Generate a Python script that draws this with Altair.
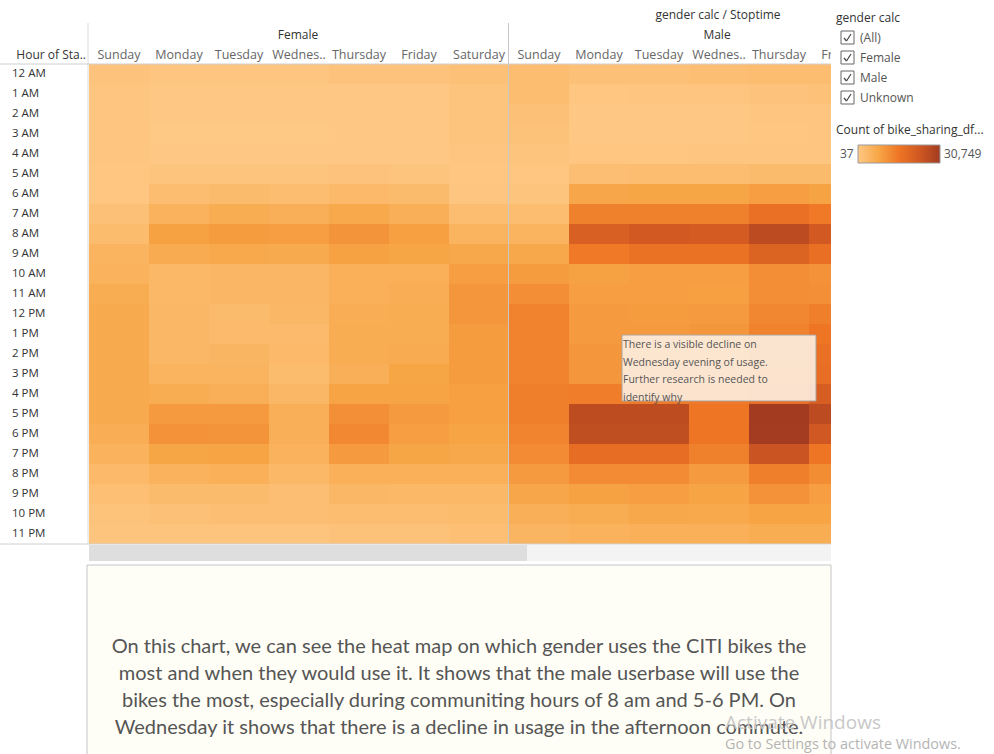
import altair as alt
import pandas as pd

FONT = "Open Sans"
BODY_FONT = "Lato"

HOURS = ["12 AM", "1 AM", "2 AM", "3 AM", "4 AM", "5 AM", "6 AM", "7 AM", "8 AM", "9 AM",
         "10 AM", "11 AM", "12 PM", "1 PM", "2 PM", "3 PM", "4 PM", "5 PM", "6 PM", "7 PM",
         "8 PM", "9 PM", "10 PM", "11 PM"]
DAYS = ["Sunday", "Monday", "Tuesday", "Wednesday", "Thursday", "Friday", "Saturday"]
DAY_LABELS = ["Sunday", "Monday", "Tuesday", "Wednes..", "Thursday", "Friday", "Saturday"]
GENDERS = ["Female", "Male"]

# Count of rides by hour (12 AM .. 11 PM) for each stop day
FEMALE = {
    "Sunday":    [1170, 710, 710, 650, 650, 500, 500, 1880, 2800, 4800, 4950, 6180, 6790, 6790, 6790, 6790, 6790, 6790, 5870, 4950, 3420, 2060, 1270, 960],
    "Monday":    [650, 190, 110, 90, 190, 960, 2490, 4950, 8330, 6490, 3660, 3660, 3880, 3880, 3880, 4640, 6180, 9560, 10790, 7710, 4950, 2980, 1880, 960],
    "Tuesday":   [650, 190, 110, 80, 190, 960, 2980, 6180, 9250, 7100, 4030, 4030, 2980, 3110, 4340, 4640, 5570, 9560, 10480, 8020, 5440, 2980, 2340, 960],
    "Wednesday": [650, 190, 110, 90, 190, 960, 2490, 5570, 8940, 6790, 4030, 4030, 3880, 3110, 3420, 2800, 3880, 5570, 5570, 4950, 3660, 2190, 2190, 960],
    "Thursday":  [1170, 340, 190, 190, 190, 1110, 3420, 7100, 10480, 8330, 5440, 5440, 5870, 6180, 6180, 5570, 8020, 11090, 12320, 9560, 5440, 3880, 2490, 1420],
    "Friday":    [1170, 340, 190, 190, 190, 960, 2980, 5690, 8640, 7710, 5440, 5870, 6180, 6180, 6490, 7710, 8020, 9560, 8940, 7710, 5440, 3660, 2490, 1420],
    "Saturday":  [1880, 960, 960, 960, 800, 500, 710, 2490, 4800, 7250, 8940, 10170, 10170, 9250, 9250, 9250, 8640, 8640, 8020, 7250, 5440, 3660, 2800, 2060],
}
# Male panel is scrolled: only Sunday..Friday are in view
MALE = {
    "Sunday":    [2490, 2490, 1880, 1420, 960, 500, 960, 2490, 4800, 7250, 9250, 11400, 13240, 13240, 13240, 13240, 13860, 13860, 12940, 12010, 9560, 7410, 5570, 4340],
    "Monday":    [1880, 500, 340, 340, 500, 2190, 7410, 13550, 20920, 14780, 8330, 8940, 9560, 9560, 10170, 10170, 14160, 26140, 25830, 17540, 12010, 8330, 6180, 4950],
    "Tuesday":   [1880, 650, 340, 340, 500, 2490, 7710, 13550, 22460, 16310, 8940, 8940, 9250, 9560, 10170, 10790, 14470, 26140, 25830, 17540, 12010, 8940, 7250, 5440],
    "Wednesday": [2340, 650, 340, 340, 650, 2490, 7710, 13550, 22150, 16310, 8940, 8640, 9560, 10170, 10480, 11090, 14780, 15390, 15390, 13550, 9560, 8020, 7100, 5440],
    "Thursday":  [2490, 1170, 650, 500, 650, 2980, 8940, 16620, 26450, 20000, 11400, 11400, 12630, 13240, 13860, 15390, 16930, 30749, 30600, 23990, 13860, 10790, 8020, 6180],
    "Friday":    [2490, 1570, 800, 650, 650, 2980, 8180, 14780, 22460, 16930, 10790, 11090, 13860, 15390, 16620, 17240, 21540, 26450, 23070, 15390, 11710, 8940, 8020, 6180],
}
COUNT_MIN, COUNT_MAX = 37, 30749
COLORS = ["#fec885", "#f7a646", "#ee7524", "#d05822", "#a23b20"]
COLOR_STOPS = [37, 7715, 15393, 23071, 30749]

LEGEND_ITEMS = ["(All)", "Female", "Male", "Unknown"]
NOTE_LINES = ["There is a visible decline on", "Wednesday evening of usage.",
              "Further research is needed to", "identify why"]
BODY_LINES = [
    "On this chart, we can see the heat map on which gender uses the CITI bikes the",
    "most and when they would use it. It shows that the male userbase will use the",
    "bikes the most, especially during communiting hours of 8 am and 5-6 PM. On",
    "Wednesday it shows that there is a decline in usage in the afternoon commute.",
]

rows = []
for g, table in (("Female", FEMALE), ("Male", MALE)):
    for d, vals in table.items():
        for h, v in zip(HOURS, vals):
            rows.append({"key": f"{g}|{d}", "hour": h, "count": v})
heat = pd.DataFrame(rows)

KEYS = [f"{g}|{d}" for g in GENDERS for d in DAYS]
day_df = pd.DataFrame([{"key": f"{g}|{d}", "label": lab}
                       for g, table in (("Female", FEMALE), ("Male", MALE))
                       for d, lab in zip(DAYS, DAY_LABELS) if d in table])
hour_df = pd.DataFrame({"hour": HOURS})

xscale = alt.Scale(domain=KEYS, range=[0, 840], paddingInner=0, paddingOuter=0)
yscale = alt.Scale(domain=HOURS, range=[20, 500], paddingInner=0, paddingOuter=0)

one = pd.DataFrame({"a": [0]})


def txt(s, x, y, size=12, color="#333333", align="left", font=FONT):
    return alt.Chart(one).mark_text(text=s, align=align, baseline="middle", fontSize=size,
                                    color=color, font=font).encode(x=alt.value(x), y=alt.value(y))


def box(x1, x2, y1, y2, fill, stroke=None, opacity=1.0, sw=1):
    kw = dict(fill=fill, opacity=opacity)
    if stroke:
        kw.update(stroke=stroke, strokeWidth=sw)
    return alt.Chart(one).mark_rect(**kw).encode(
        x=alt.value(x1), x2=alt.value(x2), y=alt.value(y1), y2=alt.value(y2))


def seg(x1, y1, x2, y2, color="#d4d4d4", sw=1):
    return alt.Chart(one).mark_rule(color=color, strokeWidth=sw).encode(
        x=alt.value(x1), x2=alt.value(x2), y=alt.value(y1), y2=alt.value(y2))


heatmap = alt.Chart(heat).mark_rect(clip=True).encode(
    x=alt.X("key:N", scale=xscale, axis=None),
    y=alt.Y("hour:N", scale=yscale, axis=None),
    color=alt.Color("count:Q", scale=alt.Scale(domain=COLOR_STOPS, range=COLORS, interpolate="rgb"),
                    legend=None),
)

day_labels = alt.Chart(day_df).mark_text(clip=True, font=FONT, fontSize=12.5, color="#666666",
                                         baseline="middle").encode(
    x=alt.X("key:N", scale=xscale, axis=None), y=alt.value(11), text="label:N")

hour_labels = alt.Chart(hour_df).mark_text(align="left", baseline="middle", font=FONT, fontSize=11.5,
                                           color="#333333").encode(
    x=alt.value(-77), y=alt.Y("hour:N", scale=yscale, axis=None), text="hour:N")

layers = [
    heatmap,
    seg(-1, -21, -1, 500, "#dcdcdc"),
    seg(419.5, -21, 419.5, 500, "#c8c8c8"),
    seg(-89, 20, 742, 20, "#d0d0d0"),
    seg(-89, 500, 742, 500, "#d0d0d0"),
    day_labels,
    hour_labels,
    txt("Hour of Sta..", -3, 11, align="right"),
    txt("gender calc / Stoptime", 629, -29, align="center"),
    txt("Female", 209, -9, align="center"),
    txt("Male", 628, -9, align="center"),
    # scrollbar
    box(0, 742, 501, 517, "#f3f3f3"),
    box(0, 438, 501, 517, "#dedede"),
    # annotation
    box(533, 727, 291, 357, "#fdefe1", stroke="#a8a8a8", opacity=0.9),
]
for i, line in enumerate(NOTE_LINES):
    layers.append(txt(line, 534, 301 + i * 17.5, size=10.5, color="#555555"))

# text box below
layers.append(box(-2, 742, 521, 720, "#fffef6", stroke="#c4c4c4"))
for i, line in enumerate(BODY_LINES):
    layers.append(txt(line, 370, 603 + i * 27, size=20, color="#555555", align="center",
                      font=BODY_FONT))

# legend
layers.append(txt("gender calc", 747, -26))
for i, item in enumerate(LEGEND_ITEMS):
    y0 = -13 + i * 20
    layers.append(box(752, 765, y0, y0 + 13, "#ffffff", stroke="#666666"))
    layers.append(seg(755, y0 + 7, 757.5, y0 + 10, "#444444", 1.2))
    layers.append(seg(757.5, y0 + 10, 762, y0 + 3, "#444444", 1.2))
    layers.append(txt(item, 771, y0 + 7, color="#555555"))
layers.append(txt("Count of bike_sharing_df...", 747, 86))
grad = alt.Gradient(gradient="linear",
                    stops=[alt.GradientStop(offset=(v - COUNT_MIN) / (COUNT_MAX - COUNT_MIN), color=c)
                           for v, c in zip(COLOR_STOPS, COLORS)],
                    x1=0, x2=1, y1=0, y2=0)
layers.append(alt.Chart(one).mark_rect(fill=grad, stroke="#999999").encode(
    x=alt.value(769), x2=alt.value(851), y=alt.value(101), y2=alt.value(119)))
layers.append(txt(f"{COUNT_MIN}", 751, 110, color="#555555"))
layers.append(txt(f"{COUNT_MAX:,}", 855, 110, color="#555555"))

# OS watermark
layers.append(txt("Activate Windows", 636, 679, size=19, color="#c8c8c8"))
layers.append(txt("Go to Settings to activate Windows.", 636, 701, size=14.4, color="#b4b4b4"))

chart = alt.layer(*layers).properties(
    width=742, height=500,
    autosize=alt.AutoSizeParams(type="none"),
    padding={"left": 89, "top": 44, "right": 163, "bottom": 210},
    background="#ffffff",
).configure_view(stroke=None)

chart.save("out.html", embed_options={"renderer": "svg", "actions": False})
